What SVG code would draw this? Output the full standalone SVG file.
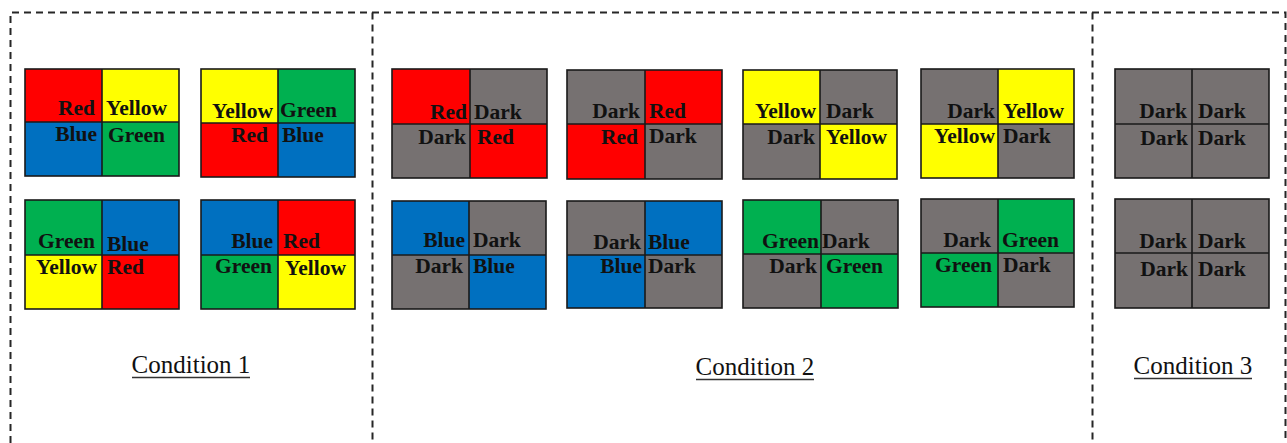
<svg xmlns="http://www.w3.org/2000/svg" width="1287" height="443" viewBox="0 0 1287 443">
  <style>
    .frame{fill:none;stroke:#262626;stroke-width:2;stroke-dasharray:7 5}
    .r{fill:#FF0000}.y{fill:#FFFF00}.g{fill:#00B050}.b{fill:#0070C0}.d{fill:#767171}
    .edge{fill:none;stroke:#1a1a1a;stroke-width:1.6}
    .t{font-family:"Liberation Serif","Times New Roman",serif;font-weight:bold;font-size:21.5px;fill:#111}
    .e{text-anchor:end}
    .cap{font-family:"Liberation Serif","Times New Roman",serif;font-size:25px;fill:#111;text-anchor:middle}
    .ul{stroke:#333;stroke-width:1.3}
  </style>

  <!-- dashed panel frames -->
  <g id="frames">
    <path class="frame" d="M10.5 443V12.5H1285.5V443"/>
    <path class="frame" d="M372.5 12.5V443"/>
    <path class="frame" d="M1092.5 12.5V443"/>
  </g>

  <!-- Condition 1 -->
  <g id="c1-grid1">
    <rect class="r" x="25" y="69" width="77" height="53"/><rect class="y" x="102" y="69" width="77" height="53"/>
    <rect class="b" x="25" y="122" width="77" height="54"/><rect class="g" x="102" y="122" width="77" height="54"/>
    <rect class="edge" x="25" y="69" width="154" height="107"/><path class="edge" d="M102 69V176M25 122H179"/>
    <text class="t e" x="95" y="115">Red</text><text class="t" x="106" y="115">Yellow</text>
    <text class="t e" x="97" y="141">Blue</text><text class="t" x="108" y="142">Green</text>
  </g>
  <g id="c1-grid2">
    <rect class="y" x="201" y="69" width="77" height="54"/><rect class="g" x="278" y="69" width="77" height="54"/>
    <rect class="r" x="201" y="123" width="77" height="54"/><rect class="b" x="278" y="123" width="77" height="54"/>
    <rect class="edge" x="201" y="69" width="154" height="108"/><path class="edge" d="M278 69V177M201 123H355"/>
    <text class="t e" x="273" y="118">Yellow</text><text class="t" x="280" y="117">Green</text>
    <text class="t e" x="268" y="142">Red</text><text class="t" x="282" y="142">Blue</text>
  </g>
  <g id="c1-grid3">
    <rect class="g" x="25" y="200" width="77" height="55"/><rect class="b" x="102" y="200" width="77" height="55"/>
    <rect class="y" x="25" y="255" width="77" height="54"/><rect class="r" x="102" y="255" width="77" height="54"/>
    <rect class="edge" x="25" y="200" width="154" height="109"/><path class="edge" d="M102 200V309M25 255H179"/>
    <text class="t e" x="95" y="248">Green</text><text class="t" x="107" y="251">Blue</text>
    <text class="t e" x="97" y="274">Yellow</text><text class="t" x="107" y="274">Red</text>
  </g>
  <g id="c1-grid4">
    <rect class="b" x="201" y="200" width="77" height="55"/><rect class="r" x="278" y="200" width="77" height="55"/>
    <rect class="g" x="201" y="255" width="77" height="54"/><rect class="y" x="278" y="255" width="77" height="54"/>
    <rect class="edge" x="201" y="200" width="154" height="109"/><path class="edge" d="M278 200V309M201 255H355"/>
    <text class="t e" x="273" y="248">Blue</text><text class="t" x="283" y="248">Red</text>
    <text class="t e" x="272" y="273">Green</text><text class="t" x="285" y="275">Yellow</text>
  </g>
  <g id="c1-caption">
    <text class="cap" x="191" y="373">Condition 1</text>
    <line class="ul" x1="132" y1="377.5" x2="250" y2="377.5"/>
  </g>

  <!-- Condition 2 -->
  <g id="c2-grid1">
    <rect class="r" x="392" y="69" width="78" height="55"/><rect class="d" x="470" y="69" width="77" height="55"/>
    <rect class="d" x="392" y="124" width="78" height="54"/><rect class="r" x="470" y="124" width="77" height="54"/>
    <rect class="edge" x="392" y="69" width="155" height="109"/><path class="edge" d="M470 69V178M392 124H547"/>
    <text class="t e" x="467" y="119">Red</text><text class="t" x="474" y="119">Dark</text>
    <text class="t e" x="466" y="144">Dark</text><text class="t" x="477" y="144">Red</text>
  </g>
  <g id="c2-grid2">
    <rect class="d" x="567" y="70" width="78" height="54"/><rect class="r" x="645" y="70" width="77" height="54"/>
    <rect class="r" x="567" y="124" width="78" height="55"/><rect class="d" x="645" y="124" width="77" height="55"/>
    <rect class="edge" x="567" y="70" width="155" height="109"/><path class="edge" d="M645 70V179M567 124H722"/>
    <text class="t e" x="640" y="118">Dark</text><text class="t" x="649" y="118">Red</text>
    <text class="t e" x="638" y="144">Red</text><text class="t" x="649" y="143">Dark</text>
  </g>
  <g id="c2-grid3">
    <rect class="y" x="743" y="70" width="77" height="54"/><rect class="d" x="820" y="70" width="77" height="54"/>
    <rect class="d" x="743" y="124" width="77" height="55"/><rect class="y" x="820" y="124" width="77" height="55"/>
    <rect class="edge" x="743" y="70" width="154" height="109"/><path class="edge" d="M820 70V179M743 124H897"/>
    <text class="t e" x="816" y="118">Yellow</text><text class="t" x="826" y="118">Dark</text>
    <text class="t e" x="815" y="144">Dark</text><text class="t" x="826" y="144">Yellow</text>
  </g>
  <g id="c2-grid4">
    <rect class="d" x="921" y="69" width="77" height="55"/><rect class="y" x="998" y="69" width="76" height="55"/>
    <rect class="y" x="921" y="124" width="77" height="54"/><rect class="d" x="998" y="124" width="76" height="54"/>
    <rect class="edge" x="921" y="69" width="153" height="109"/><path class="edge" d="M998 69V178M921 124H1074"/>
    <text class="t e" x="995" y="118">Dark</text><text class="t" x="1003" y="118">Yellow</text>
    <text class="t e" x="995" y="143">Yellow</text><text class="t" x="1003" y="143">Dark</text>
  </g>
  <g id="c2-grid5">
    <rect class="b" x="392" y="201" width="77" height="54"/><rect class="d" x="469" y="201" width="77" height="54"/>
    <rect class="d" x="392" y="255" width="77" height="54"/><rect class="b" x="469" y="255" width="77" height="54"/>
    <rect class="edge" x="392" y="201" width="154" height="108"/><path class="edge" d="M469 201V309M392 255H546"/>
    <text class="t e" x="465" y="247">Blue</text><text class="t" x="473" y="247">Dark</text>
    <text class="t e" x="463" y="273">Dark</text><text class="t" x="473" y="273">Blue</text>
  </g>
  <g id="c2-grid6">
    <rect class="d" x="567" y="201" width="78" height="54"/><rect class="b" x="645" y="201" width="77" height="54"/>
    <rect class="b" x="567" y="255" width="78" height="53"/><rect class="d" x="645" y="255" width="77" height="53"/>
    <rect class="edge" x="567" y="201" width="155" height="107"/><path class="edge" d="M645 201V308M567 255H722"/>
    <text class="t e" x="641" y="249">Dark</text><text class="t" x="648" y="249">Blue</text>
    <text class="t e" x="642" y="273">Blue</text><text class="t" x="648" y="273">Dark</text>
  </g>
  <g id="c2-grid7">
    <rect class="g" x="743" y="200" width="78" height="54"/><rect class="d" x="821" y="200" width="77" height="54"/>
    <rect class="d" x="743" y="254" width="78" height="54"/><rect class="g" x="821" y="254" width="77" height="54"/>
    <rect class="edge" x="743" y="200" width="155" height="108"/><path class="edge" d="M821 200V308M743 254H898"/>
    <text class="t e" x="819" y="248">Green</text><text class="t" x="822" y="248">Dark</text>
    <text class="t e" x="817" y="273">Dark</text><text class="t" x="826" y="273">Green</text>
  </g>
  <g id="c2-grid8">
    <rect class="d" x="921" y="199" width="77" height="54"/><rect class="g" x="998" y="199" width="76" height="54"/>
    <rect class="g" x="921" y="253" width="77" height="54"/><rect class="d" x="998" y="253" width="76" height="54"/>
    <rect class="edge" x="921" y="199" width="153" height="108"/><path class="edge" d="M998 199V307M921 253H1074"/>
    <text class="t e" x="991" y="247">Dark</text><text class="t" x="1002" y="247">Green</text>
    <text class="t e" x="992" y="272">Green</text><text class="t" x="1003" y="272">Dark</text>
  </g>
  <g id="c2-caption">
    <text class="cap" x="755" y="375">Condition 2</text>
    <line class="ul" x1="696" y1="379.5" x2="814" y2="379.5"/>
  </g>

  <!-- Condition 3 -->
  <g id="c3-grid1">
    <rect class="d" x="1115" y="69" width="154" height="109"/>
    <rect class="edge" x="1115" y="69" width="154" height="109"/><path class="edge" d="M1192 69V178M1115 124H1269"/>
    <text class="t e" x="1187" y="118">Dark</text><text class="t" x="1198" y="118">Dark</text>
    <text class="t e" x="1188" y="145">Dark</text><text class="t" x="1198" y="145">Dark</text>
  </g>
  <g id="c3-grid2">
    <rect class="d" x="1115" y="199" width="154" height="109"/>
    <rect class="edge" x="1115" y="199" width="154" height="109"/><path class="edge" d="M1192 199V308M1115 253H1269"/>
    <text class="t e" x="1187" y="248">Dark</text><text class="t" x="1198" y="248">Dark</text>
    <text class="t e" x="1188" y="276">Dark</text><text class="t" x="1198" y="276">Dark</text>
  </g>
  <g id="c3-caption">
    <text class="cap" x="1193" y="374">Condition 3</text>
    <line class="ul" x1="1134" y1="378.5" x2="1252" y2="378.5"/>
  </g>
</svg>
